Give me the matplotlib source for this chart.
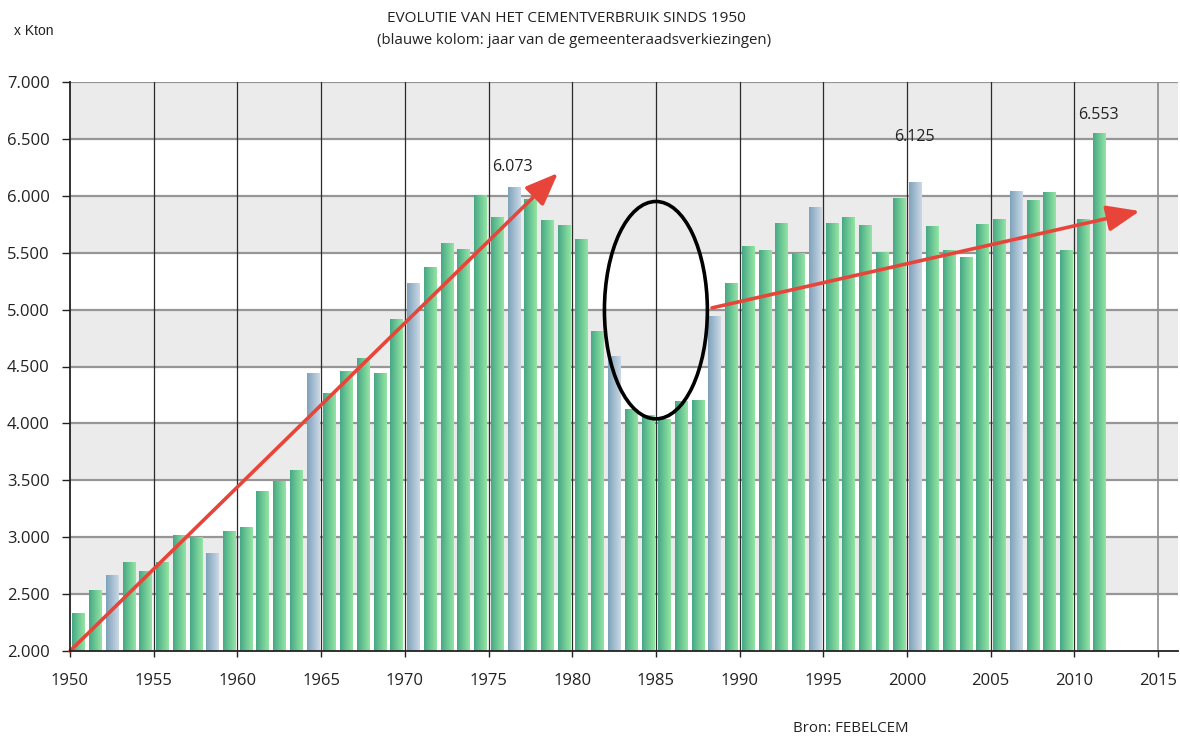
import numpy as np
import matplotlib
matplotlib.use("Agg")
import matplotlib.pyplot as plt
from matplotlib.patches import Ellipse
from matplotlib.colors import LinearSegmentedColormap
from matplotlib.ticker import FuncFormatter

# ---------------- data ----------------
years = list(range(1950, 2012))
verbruik = [2334, 2536, 2668, 2782, 2703, 2782, 3019, 2999, 2861, 3054,
            3090, 3406, 3494, 3590, 4440, 4265, 4457, 4571, 4440, 4921,
            5235, 5375, 5585, 5533, 6004, 5812, 6073, 5969, 5785, 5742,
            5620, 4816, 4589, 4125, 4073, 4038, 4195, 4204, 4941, 5235,
            5558, 5523, 5759, 5497, 5905, 5765, 5815, 5743, 5505, 5978,
            6125, 5734, 5520, 5462, 5750, 5800, 6045, 5960, 6035, 5527,
            5795, 6553]
verkiezingsjaren = [1952, 1958, 1964, 1970, 1976, 1982, 1988, 1994, 2000, 2006]
gelabelde_jaren = [1976, 2000, 2011]
x_ticks = [1950, 1955, 1960, 1965, 1970, 1975, 1980, 1985, 1990, 1995, 2000, 2005, 2010, 2015]
y_ticks = [2000, 2500, 3000, 3500, 4000, 4500, 5000, 5500, 6000, 6500, 7000]
trend1 = [(1950, 2000), (1979.15, 6200)]
trend2 = [(1988.35, 5015), (2013.9, 5866)]

# ---------------- figure ----------------
plt.rcParams['font.family'] = ['Open Sans', 'DejaVu Sans']
fig = plt.figure(figsize=(11.8, 7.38), dpi=100)
ax = fig.add_axes([70/1180, 1-651/738, (1178-70)/1180, (651-82)/738])
x_right = 1950 + (1178-70)/16.74
ax.set_xlim(1950, x_right)
ax.set_ylim(2000, 7000)

# alternating background bands
for i, (lo, hi) in enumerate(zip(y_ticks[:-1], y_ticks[1:])):
    if i % 2 == 1:
        ax.axhspan(lo, hi, color='#ebebeb', zorder=0, lw=0)
for yv in y_ticks[1:]:
    ax.axhline(yv, color='#969696', lw=1.6, zorder=1)
for xv in x_ticks[1:-1]:
    ax.axvline(xv, color='#2a2a2a', lw=0.9, zorder=1)
ax.axvline(2015, color='#8c8c8c', lw=1.2, zorder=1)

green = LinearSegmentedColormap.from_list('g', ['#47a785', '#6cc894', '#95e4a3'])
blue = LinearSegmentedColormap.from_list('b', ['#7ea2bb', '#a5bdd0', '#cbd8e6'])
grad = np.linspace(0, 1, 64).reshape(1, -1)

colors = ['#7ea2bb' if y in verkiezingsjaren else '#47a785' for y in years]
bars = ax.bar([y + 0.5 for y in years], [v - 2000 for v in verbruik], bottom=2000,
              width=0.72, color=colors, zorder=2, lw=0)
for y, b in zip(years, bars):
    x0, y0 = b.get_x(), b.get_y()
    w, h = b.get_width(), b.get_height()
    cmap = blue if y in verkiezingsjaren else green
    im = ax.imshow(grad, cmap=cmap, aspect='auto', extent=(x0, x0 + w, y0, y0 + h),
                   zorder=2.5, interpolation='bilinear')
    im.set_clip_path(b)
    b.set_alpha(0)

# value labels
label_y = {1976: 6257, 2000: 6515, 2011: 6708}
for y in gelabelde_jaren:
    v = verbruik[years.index(y)]
    ax.text(y + 0.45, label_y[y], f"{v:,}".replace(',', '.'), ha='center', va='center',
            fontsize=11.5, color='#222222', zorder=5)

# trend arrows
red = '#e8453a'
for (s, e) in (trend1, trend2):
    ax.annotate('', xy=e, xytext=s,
                arrowprops=dict(arrowstyle='-|>,head_length=1.0,head_width=0.4',
                                mutation_scale=20, lw=2.6, color=red,
                                shrinkA=0, shrinkB=0),
                zorder=6, annotation_clip=False)

# ellipse
ax.add_patch(Ellipse((1985, 4995), 6.15, 1910, fill=False, lw=2.6, ec='black', zorder=6))

# axes styling
for side in ('top', 'right'):
    ax.spines[side].set_visible(False)
ax.spines['left'].set_color('#222222')
ax.spines['bottom'].set_color('#222222')
ax.spines['left'].set_linewidth(1.3)
ax.spines['bottom'].set_linewidth(1.3)
ax.spines['left'].set_zorder(7)
ax.spines['bottom'].set_zorder(7)
ax.set_xticks(x_ticks)
ax.set_yticks(y_ticks)
ax.yaxis.set_major_formatter(FuncFormatter(lambda v, p: f"{int(v):,}".replace(',', '.')))
ax.tick_params(axis='both', labelsize=12, colors='#222222', width=1)
ax.tick_params(axis='x', pad=11, length=4.5)
ax.tick_params(axis='y', pad=8.5, length=6)

# titles
fig.text(566/1180, 1-18/738, 'EVOLUTIE VAN HET CEMENTVERBRUIK SINDS 1950', ha='center',
         va='center', fontsize=11.1, color='#222222')
fig.text(574/1180, 1-40/738, '(blauwe kolom: jaar van de gemeenteraadsverkiezingen)',
         ha='center', va='center', fontsize=10.8, color='#222222')
fig.text(14/1180, 1-31/738, 'x Kton', ha='left', va='center', fontsize=10,
         family=['Liberation Sans', 'DejaVu Sans'], color='#222222')
fig.text(793/1180, 1-729/738, 'Bron: FEBELCEM', ha='left', va='center', fontsize=10.8,
         color='#222222')

fig.savefig('out.png', dpi=100)
